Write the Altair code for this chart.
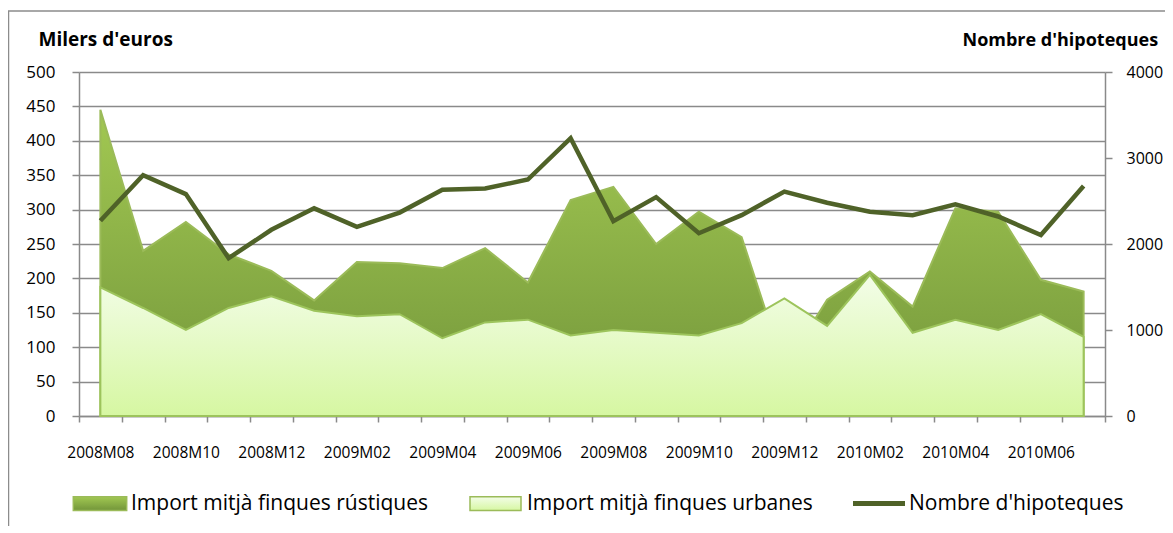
import altair as alt
import pandas as pd

months = ["2008M08", "2008M09", "2008M10", "2008M11", "2008M12",
          "2009M01", "2009M02", "2009M03", "2009M04", "2009M05", "2009M06",
          "2009M07", "2009M08", "2009M09", "2009M10", "2009M11", "2009M12",
          "2010M01", "2010M02", "2010M03", "2010M04", "2010M05", "2010M06", "2010M07"]
rustiques = [445, 240, 282, 235, 211, 168, 224, 222, 215, 244, 194, 314,
             333, 250, 297, 260, 70, 169, 210, 159, 302, 297, 198, 181]
urbanes = [187, 157, 125, 157, 174, 153, 145, 148, 113, 136, 140, 117,
           125, 121, 117, 135, 171, 131, 205, 121, 140, 125, 148, 115]
hipoteques = [2270, 2800, 2580, 1835, 2165, 2415, 2200, 2365, 2630, 2645, 2750, 3230,
              2265, 2545, 2125, 2335, 2610, 2480, 2375, 2335, 2460, 2320, 2105, 2675]
legend_labels = ["Import mitjà finques rústiques", "Import mitjà finques urbanes", "Nombre d'hipoteques"]

df = pd.DataFrame({"month": months, "rustiques": rustiques,
                   "urbanes": urbanes, "hipoteques": hipoteques})

FONT = "Open Sans"
GRID = "#8a8a8a"
dark_grad = alt.Gradient(gradient="linear", x1=0, x2=0, y1=0, y2=1,
                         stops=[alt.GradientStop(color="#a2c852", offset=0),
                                alt.GradientStop(color="#72953a", offset=1)])
light_grad = alt.Gradient(gradient="linear", x1=0, x2=0, y1=0, y2=1,
                          stops=[alt.GradientStop(color="#f3fde8", offset=0),
                                 alt.GradientStop(color="#d6f7a2", offset=1)])

xenc = alt.X("month:O", sort=months, bandPosition=0.5, title=None,
             scale=alt.Scale(type="band", paddingInner=0, paddingOuter=0),
             axis=alt.Axis(labelExpr="parseInt(substring(datum.value, 5, 7)) % 2 == 0 ? datum.value : ''",
                           tickBand="extent", labelAngle=0, grid=False,
                           domainColor=GRID, domainWidth=1.5, tickColor=GRID, tickWidth=1.5,
                           tickSize=6, labelFont=FONT, labelFontSize=15.5, labelColor="#000000",
                           labelBaseline="alphabetic", labelPadding=35, labelOverlap=False))

yleft_axis = alt.Axis(values=list(range(0, 501, 50)), grid=True, gridColor=GRID, gridWidth=1.5,
                      domainColor=GRID, domainWidth=1.5, tickColor=GRID, tickWidth=1.5, tickSize=7,
                      labelFont=FONT, labelFontSize=17, labelColor="#000000", labelPadding=17,
                      title="Milers d'euros", titleAngle=0, titleX=-41, titleY=-27,
                      titleAlign="left", titleBaseline="alphabetic", titleFont=FONT,
                      titleFontSize=19, titleFontWeight="bold", titleColor="#000000")

base = alt.Chart(df)
area_r = base.mark_area(color=dark_grad, stroke="#9bbb59", strokeWidth=2).encode(
    x=xenc,
    y=alt.Y("rustiques:Q", stack=None, scale=alt.Scale(domain=[0, 500]), axis=yleft_axis))
area_u = base.mark_area(color=light_grad, stroke="#9dc45c", strokeWidth=2).encode(
    x=xenc,
    y=alt.Y("urbanes:Q", stack=None, scale=alt.Scale(domain=[0, 500]), axis=yleft_axis))
areas = alt.layer(area_r, area_u)

line = base.mark_line(color="#4f6228", strokeWidth=4.5).encode(
    x=xenc,
    y=alt.Y("hipoteques:Q", scale=alt.Scale(domain=[0, 4000]),
            axis=alt.Axis(orient="right", values=list(range(0, 4001, 1000)), format="d", grid=False,
                          domainColor=GRID, domainWidth=1.5, tickColor=GRID, tickWidth=1.5,
                          tickSize=7, labelFont=FONT, labelFontSize=16, labelColor="#000000",
                          labelPadding=14, title="Nombre d'hipoteques", titleAngle=0,
                          titleX=-143, titleY=-27, titleAlign="left", titleBaseline="alphabetic",
                          titleFont=FONT, titleFontSize=18, titleFontWeight="bold",
                          titleColor="#000000")))

one = pd.DataFrame({"a": [0]})
frame = alt.Chart(one).mark_rect(fillOpacity=0, stroke="#8c8c8c", strokeWidth=1.5).encode(
    x=alt.value(-70.5), x2=alt.value(1300), y=alt.value(-61), y2=alt.value(700))

LEG_FS = 21
leg = []
sym_specs = [(-5.7, 47.7, dark_grad, 52), (391, 442, light_grad, 448)]
for (x0, x1, g, tx), lab in zip(sym_specs, legend_labels[:2]):
    leg.append(alt.Chart(one).mark_rect(color=g, stroke="#9bbb59", strokeWidth=1.5).encode(
        x=alt.value(x0), x2=alt.value(x1), y=alt.value(424.7), y2=alt.value(438.5)))
    leg.append(alt.Chart(pd.DataFrame({"t": [lab]})).mark_text(
        align="left", baseline="alphabetic", font=FONT, fontSize=LEG_FS, color="#000000").encode(
        text="t:N", x=alt.value(tx), y=alt.value(438)))
leg.append(alt.Chart(one).mark_rule(color="#4f6228", strokeWidth=5).encode(
    x=alt.value(774), x2=alt.value(826), y=alt.value(431.5)))
leg.append(alt.Chart(pd.DataFrame({"t": [legend_labels[2]]})).mark_text(
    align="left", baseline="alphabetic", font=FONT, fontSize=LEG_FS, color="#000000").encode(
    text="t:N", x=alt.value(830), y=alt.value(438)))

chart = alt.layer(frame, areas, line, *leg).resolve_scale(y="independent").properties(
    width=1026, height=344,
    autosize=alt.AutoSizeParams(type="none"),
    padding={"left": 71, "top": 64, "right": 60, "bottom": 110},
    background="#ffffff",
).configure_view(strokeWidth=0)

chart.save("out.html", embed_options={"renderer": "svg", "actions": False})
